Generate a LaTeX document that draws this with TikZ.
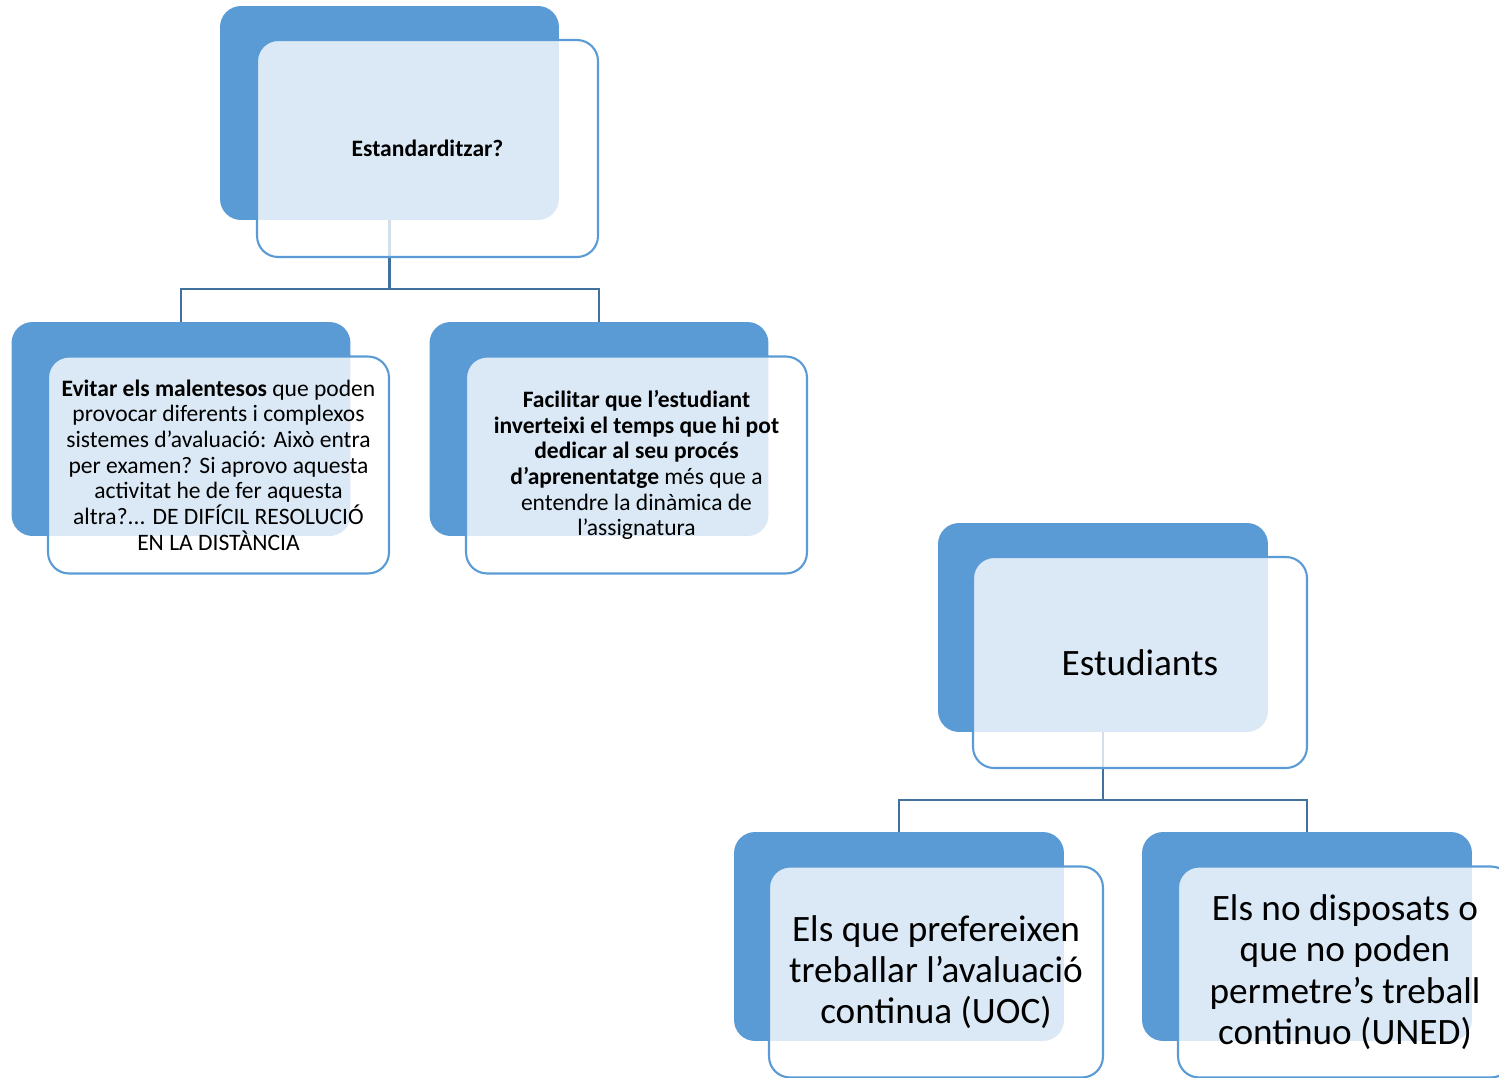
\documentclass[tikz,border=0pt]{standalone}
\usepackage{fontspec}
\setmainfont{Carlito}
\usepackage{xcolor}
\usetikzlibrary{calc, positioning}
\definecolor{blau}{HTML}{5B9BD5}
\definecolor{vora}{HTML}{5B9BD5}
\definecolor{linia}{HTML}{41719C}

\begin{document}
\begin{tikzpicture}[x=0.02cm, y=-0.02cm,
	fons/.style={rectangle, rounded corners=0.42cm, fill=blau, minimum width=6.78cm, minimum height=4.28cm},
	fonsg/.style={fons, minimum width=6.6cm, minimum height=4.18cm},
	caixa/.style={rectangle, rounded corners=0.42cm, draw=vora, line width=1.2pt, fill=white, fill opacity=0.78, text opacity=1, minimum width=6.82cm, minimum height=4.34cm, align=center, font=\fontsize{13.4}{14.6}\selectfont},
	caixag/.style={caixa, minimum width=6.68cm, minimum height=4.22cm, font=\fontsize{21.2}{23.5}\selectfont},
	con/.style={draw=linia, line width=1.5pt}]
	\clip (0,0) rectangle (1499,1078);
	% fons %
	\node[fons] (e) at (389.5,113) {};
	\node[fons] (a) at (181,429) {};
	\node[fons] (b) at (599,429) {};
	\node[fonsg] (s) at (1103,627.5) {};
	\node[fonsg] (c) at (899,936.5) {};
	\node[fonsg] (d) at (1307,936.5) {};
	% conexiones %
	\coordinate (m1) at (389.5,289);
	\coordinate (m2) at (1103,800);
	\draw[con] (e.south) -- (m1);
	\draw[con] (a.north) |- (m1) -| (b.north);
	\draw[con] (s.south) -- (m2);
	\draw[con] (c.north) |- (m2) -| (d.north);
	% nodos %
	\node[caixa] (ef) at (427.5,148.5) {\textbf{Estandarditzar?}};
	\node[caixa] (af) at (218.5,465) {\textbf{Evitar els malentesos} que poden\\ provocar diferents i complexos\\ sistemes d’avaluació: Això entra\\ per examen? Si aprovo aquesta\\ activitat he de fer aquesta\\ altra?... DE DIFÍCIL RESOLUCIÓ\\ EN LA DISTÀNCIA};
	\node[caixa] (bf) at (636.5,465) {\textbf{Facilitar que l’estudiant}\\ \textbf{inverteixi el temps que hi pot}\\ \textbf{dedicar al seu procés}\\ \textbf{d’aprenentatge} més que a\\ entendre la dinàmica de\\ l’assignatura};
	\node[caixag] (sf) at (1140,662.5) {Estudiants};
	\node[caixag] (cf) at (936,972) {Els que prefereixen\\ treballar l’avaluació\\ continua (UOC)};
	\node[caixag] (df) at (1345,972) {Els no disposats o\\ que no poden\\ permetre’s treball\\ continuo (UNED)};
\end{tikzpicture}
\end{document}
